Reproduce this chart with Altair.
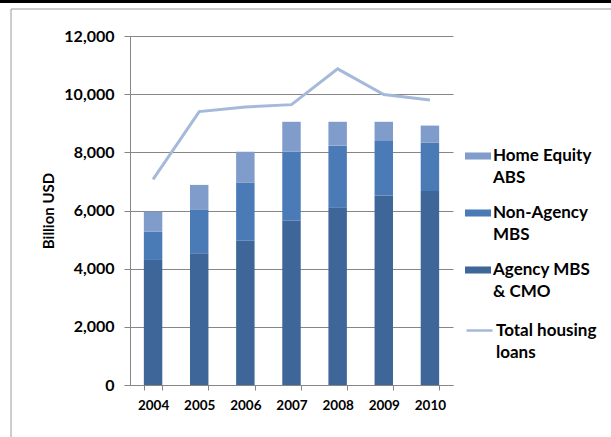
import altair as alt
import pandas as pd

years = ["2004", "2005", "2006", "2007", "2008", "2009", "2010"]
agency = [4300, 4530, 4960, 5650, 6110, 6520, 6670]
non_agency = [970, 1510, 2000, 2370, 2120, 1870, 1660]
home_equity = [690, 840, 1060, 1030, 820, 660, 590]
total = [7070, 9400, 9560, 9640, 10870, 9990, 9800]

series_names = ["Home Equity ABS", "Non-Agency MBS", "Agency MBS & CMO"]
series_colors = ["#7F9CCB", "#4A7BB7", "#3E6698"]
line_name = "Total housing loans"
line_color = "#A5B9DB"

rows = []
for i, y in enumerate(years):
    rows.append({"year": y, "series": "Agency MBS & CMO", "value": agency[i], "ord": 0})
    rows.append({"year": y, "series": "Non-Agency MBS", "value": non_agency[i], "ord": 1})
    rows.append({"year": y, "series": "Home Equity ABS", "value": home_equity[i], "ord": 2})
bars_df = pd.DataFrame(rows)
line_df = pd.DataFrame({"year": years, "value": total, "name": [line_name] * len(years)})

FONT = "Lato"

x_enc = alt.X(
    "year:N",
    title=None,
    scale=alt.Scale(paddingInner=0.6, paddingOuter=0.3),
    axis=alt.Axis(
        labelAngle=0, labelFontSize=13.5, labelFontWeight="bold", labelColor="#000000",
        labelFont=FONT, labelPadding=8, tickBand="extent", tickSize=5,
        tickColor="#868686", domainColor="#868686", grid=False,
    ),
)

y_enc = alt.Y(
    "value:Q",
    stack="zero",
    title="Billion USD",
    scale=alt.Scale(domain=[0, 12000], nice=False),
    axis=alt.Axis(
        values=[0, 2000, 4000, 6000, 8000, 10000, 12000], format=",.0f",
        labelFontSize=16, labelFontWeight="bold", labelColor="#000000", labelFont=FONT,
        labelPadding=10, tickSize=6, tickColor="#868686", domainColor="#868686",
        gridColor="#868686", gridWidth=1,
        titleFontSize=15, titleFontWeight="bold", titleFont=FONT, titleColor="#000000",
        titlePadding=7,
    ),
)

bars = alt.Chart(bars_df).mark_bar().encode(
    x=x_enc,
    y=y_enc,
    color=alt.Color(
        "series:N",
        scale=alt.Scale(domain=series_names, range=series_colors),
        legend=alt.Legend(
            title=None, orient="none", legendX=335, legendY=107,
            symbolType="M-1,-0.27H1V0.27H-1Z", symbolSize=676, symbolStrokeWidth=0,
            labelFontSize=17, labelFontWeight="bold", labelFont=FONT, labelColor="#000000",
            labelBaseline="middle", labelLimit=200, labelOffset=2, rowPadding=14,
            labelExpr="datum.label == 'Home Equity ABS' ? ['Home Equity', 'ABS'] : datum.label == 'Non-Agency MBS' ? ['Non-Agency', 'MBS'] : ['Agency MBS', '& CMO']",
        ),
    ),
    order=alt.Order("ord:Q", sort="ascending"),
)

line = alt.Chart(line_df).mark_line(strokeWidth=3).encode(
    x=x_enc,
    y=alt.Y("value:Q", stack=None),
    stroke=alt.Stroke(
        "name:N",
        scale=alt.Scale(domain=[line_name], range=[line_color]),
        legend=alt.Legend(
            title=None, orient="none", legendX=335, legendY=280,
            symbolType="stroke", symbolSize=676, symbolStrokeWidth=2.5,
            labelFontSize=17, labelFontWeight="bold", labelFont=FONT, labelColor="#000000",
            labelBaseline="middle", labelLimit=200, labelOffset=2,
            labelExpr="['Total housing', 'loans']",
        ),
    ),
)

one = pd.DataFrame({"a": [0]})
band = alt.Chart(one).mark_rule(color="#000000", strokeWidth=4).encode(
    x=alt.value(-130), x2=alt.value(481), y=alt.value(-35)
)
top_line = alt.Chart(one).mark_rule(color="#9a9a9a", strokeWidth=1).encode(
    x=alt.value(-119), x2=alt.value(481), y=alt.value(-27)
)
left_line = alt.Chart(one).mark_rule(color="#9a9a9a", strokeWidth=1).encode(
    x=alt.value(-119), y=alt.value(-27), y2=alt.value(401)
)

chart = alt.layer(bars, line, band, top_line, left_line).resolve_scale(
    color="independent", stroke="independent"
).properties(
    width=323, height=349,
    autosize=alt.AutoSizeParams(type="none"),
    padding={"left": 130, "top": 36, "right": 158, "bottom": 52},
    background="#ffffff",
).configure(
    style={"guide-label": {"lineHeight": 22}},
    view={"stroke": "transparent"},
)

chart.save("out.html", embed_options={"renderer": "svg", "actions": False})
